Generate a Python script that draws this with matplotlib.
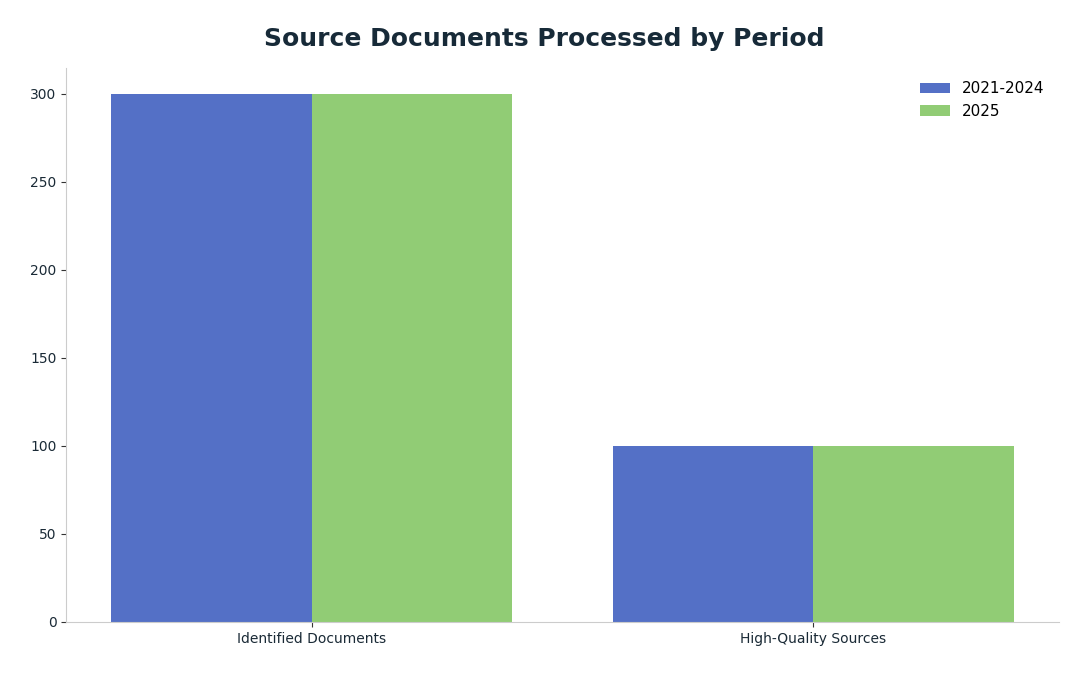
import matplotlib
matplotlib.use("Agg")
import matplotlib.pyplot as plt
import numpy as np

categories = ["Identified Documents", "High-Quality Sources"]
series_names = ["2021-2024", "2025"]
vals_2021_2024 = [300, 100]
vals_2025 = [300, 100]
colors = ["#5470c6", "#91cc75"]

fig = plt.figure(figsize=(10.88, 6.76), dpi=100)
ax = fig.add_axes([0.061, 0.08, 0.912, 0.82])
x = np.arange(len(categories))
w = 0.4
ax.bar(x - w/2, vals_2021_2024, w, color=colors[0], label=series_names[0])
ax.bar(x + w/2, vals_2025, w, color=colors[1], label=series_names[1])
ax.set_xticks(x)
ax.set_xticklabels(categories)
ax.set_xlim(-0.49, 1.49)
ax.set_ylim(0, 315)
ax.set_yticks([0, 50, 100, 150, 200, 250, 300])
for s in ["top", "right"]:
    ax.spines[s].set_visible(False)
for s in ["left", "bottom"]:
    ax.spines[s].set_color("#cccccc")
ax.tick_params(colors="#1a2a36", labelsize=10)
ax.tick_params(axis="both", color="#333333")
ax.legend(loc="upper right", frameon=False, fontsize=11)
fig.suptitle("Source Documents Processed by Period", fontsize=18, fontweight="bold",
             color="#172a38", y=0.96)
fig.savefig("out.png")
